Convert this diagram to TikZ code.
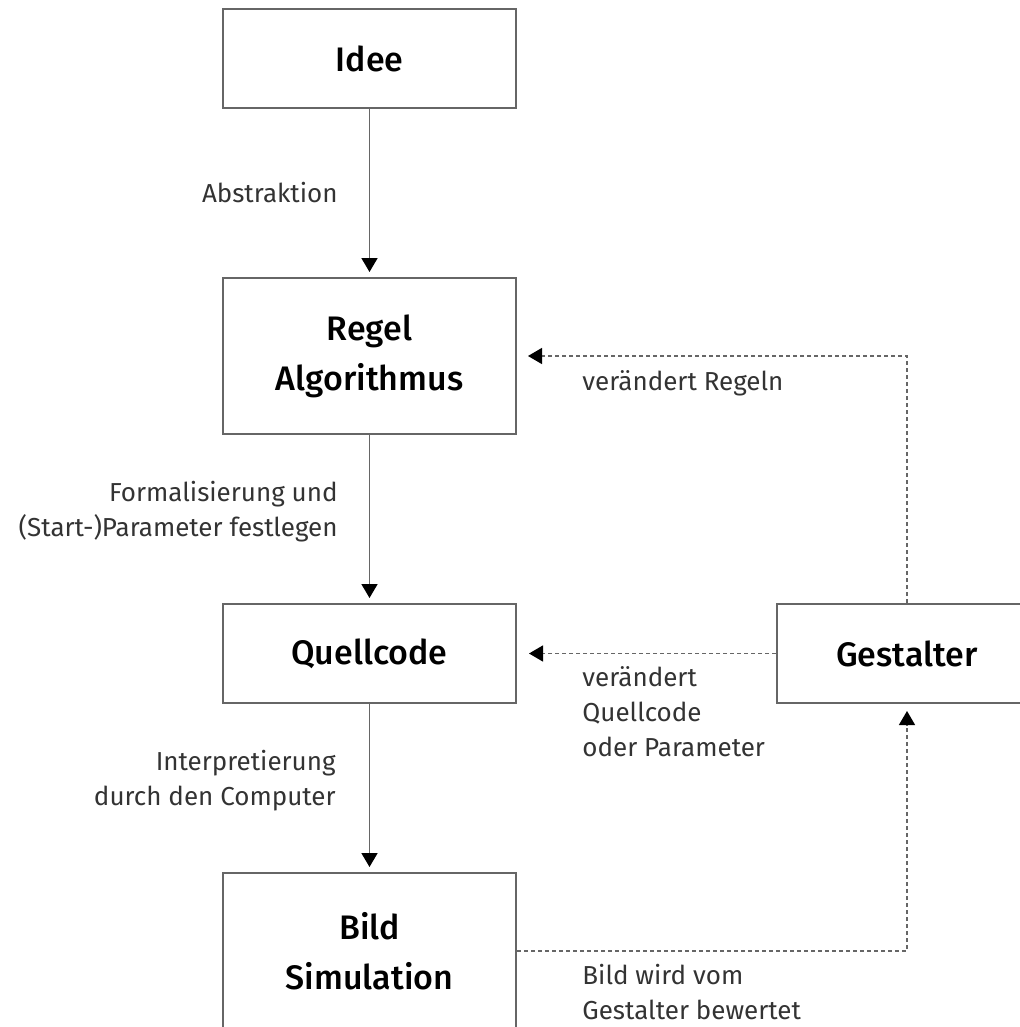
\documentclass[tikz,border=0pt]{standalone}
\usepackage{fontspec}
\setmainfont{Fira Sans}[BoldFont={Fira Sans Medium}]
\usetikzlibrary{arrows.meta}
\definecolor{boxgray}{HTML}{666666}
\definecolor{labelgray}{HTML}{333333}

\begin{document}
\begin{tikzpicture}[x=0.5pt,y=-0.5pt,
  stufe/.style={draw=boxgray, line width=1pt, minimum width=146.5pt, inner sep=0pt,
    align=center, font=\fontsize{17}{25}\selectfont\bfseries},
  flach/.style={stufe, minimum height=49.5pt},
  hoch/.style={stufe, minimum height=78pt},
  fluss/.style={draw=boxgray, line width=0.9pt,
    -{Triangle[width=8pt,length=7pt,color=black]}, shorten >=2.5pt},
  rueck/.style={fluss, line width=0.7pt, dash pattern=on 2pt off 1.5pt},
  notiz/.style={text=labelgray, inner sep=0pt, font=\fontsize{13}{17.5}\selectfont}]
\useasboundingbox (0,0) rectangle (1020,1027);

\node (idee) [flach] at (369.5,58.5) {Idee};
\node (regel) [hoch] at (369.5,356) {Regel\\Algorithmus};
\node (quell) [flach] at (369.5,653.5) {Quellcode};
\node (bild) [hoch] at (369.5,951) {Bild\\Simulation};
\node (gestalter) [flach, minimum width=130pt] at (907,653.5) {Gestalter};

\draw [fluss] (idee) -- (regel);
\draw [fluss] (regel) -- (quell);
\draw [fluss] (quell) -- (bild);

\draw [rueck, shorten >=5.5pt] (gestalter.north) |- (regel.east);
\draw [rueck, shorten >=6pt] (gestalter.west) -- (quell.east);
\draw [rueck, shorten >=3.5pt] (bild.east) -| (gestalter.south);

\node (abstr) [notiz, anchor=east] at (338,193) {Abstraktion};
\node (formal) [notiz, anchor=east, align=right] at (338,512)
  {Formalisierung und\\(Start-)Parameter festlegen};
\node (interp) [notiz, anchor=east, align=right] at (336,781)
  {Interpretierung\\durch den Computer};
\node (regelneu) [notiz, anchor=west] at (582,383) {verändert Regeln};
\node (codeneu) [notiz, anchor=west, align=left] at (582,712)
  {verändert\\Quellcode\\oder Parameter};
\node (bewertung) [notiz, anchor=west, align=left] at (582,992)
  {Bild wird vom\\Gestalter bewertet};
\end{tikzpicture}
\end{document}
